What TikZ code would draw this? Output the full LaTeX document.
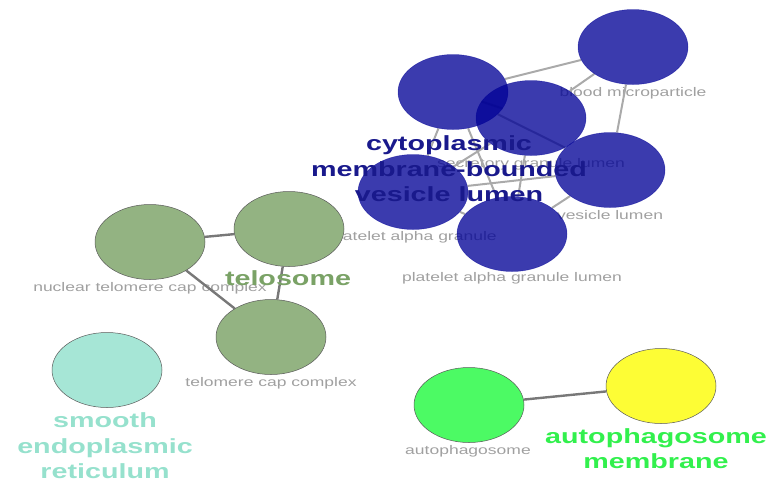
\documentclass[tikz,border=0pt]{standalone}
\usepackage{fontspec}
\setmainfont{Liberation Sans}
\usepackage{graphicx}
\usetikzlibrary{shapes.geometric,backgrounds}
\definecolor{bluefill}{RGB}{0,0,150}
\definecolor{bluelbl}{RGB}{25,25,140}
\definecolor{greennode}{RGB}{147,179,130}
\definecolor{greenlbl}{RGB}{122,162,102}
\definecolor{sernode}{RGB}{166,230,214}
\definecolor{serlbl}{RGB}{150,225,205}
\definecolor{autonode}{RGB}{76,250,100}
\definecolor{autolbl}{RGB}{50,240,77}
\definecolor{yellownode}{RGB}{253,253,53}
\definecolor{smallgray}{RGB}{160,160,160}
\definecolor{edgelight}{RGB}{170,170,170}
\definecolor{edgedark}{RGB}{120,120,120}
\newcommand{\sxx}[1]{\scalebox{1.4}[1]{#1}}
\newcommand{\bigtxt}[1]{\sxx{\fontsize{20.5}{25.5}\selectfont\bfseries\begin{tabular}{@{}c@{}}#1\end{tabular}}}
\newcommand{\smalltxt}[1]{\sxx{\fontsize{12.5}{15}\selectfont #1}}
\tikzset{
  gonode/.style={ellipse, minimum width=110pt, minimum height=75pt, inner sep=0pt, draw=black!65, line width=0.5pt},
  bluenode/.style={gonode, fill=bluefill, fill opacity=0.77, draw=bluefill, draw opacity=0.5},
  smalllbl/.style={inner sep=0pt, text=smallgray},
  biglbl/.style={inner sep=0pt},
  lightedge/.style={draw=edgelight, line width=2pt},
  darkedge/.style={draw=edgedark, line width=2.4pt}
}
\begin{document}
\begin{tikzpicture}[x=1pt,y=-1pt]
\useasboundingbox (0,0) rectangle (770,480);
% nodes
\node[bluenode] (bm) at (633,47) {};
\node[bluenode] (A) at (453,92) {};
\node[bluenode] (B) at (531,118) {};
\node[bluenode] (C) at (610,170) {};
\node[bluenode] (D) at (413,192) {};
\node[bluenode] (E) at (512,234) {};
\node[gonode, fill=greennode] (ntc) at (150,242) {};
\node[gonode, fill=greennode] (tel) at (289,229) {};
\node[gonode, fill=greennode] (tc) at (271,337) {};
\node[gonode, fill=sernode] (ser) at (107,370) {};
\node[gonode, fill=autonode] (ap) at (469,405) {};
\node[gonode, fill=yellownode] (apm) at (661,386) {};
\begin{pgfonlayer}{background}
% small labels (behind)
\node[smalllbl] (lbm) at (633,93) {\smalltxt{blood microparticle}};
\node[smalllbl] (lsg) at (531,164) {\smalltxt{secretory granule lumen}};
\node[smalllbl] (lvl) at (610,215) {\smalltxt{vesicle lumen}};
\node[smalllbl] (lpag) at (413,237) {\smalltxt{platelet alpha granule}};
\node[smalllbl] (lpagl) at (512,278) {\smalltxt{platelet alpha granule lumen}};
\node[smalllbl] (lntc) at (150,288) {\smalltxt{nuclear telomere cap complex}};
\node[smalllbl] (ltc) at (271,383) {\smalltxt{telomere cap complex}};
\node[smalllbl] (lap) at (468,451) {\smalltxt{autophagosome}};
% edges
\draw[lightedge] (A) -- (bm);
\draw[lightedge] (B) -- (bm);
\draw[lightedge] (C) -- (bm);
\draw[lightedge] (A) -- (B);
\draw[lightedge] (A) -- (C);
\draw[lightedge] (A) -- (D);
\draw[lightedge] (A) -- (E);
\draw[lightedge] (B) -- (D);
\draw[lightedge] (B) -- (E);
\draw[lightedge] (D) -- (C);
\draw[lightedge] (E) -- (C);
\draw[lightedge] (D) -- (E);
\draw[darkedge] (ntc) -- (tel);
\draw[darkedge] (ntc) -- (tc);
\draw[darkedge] (tel) -- (tc);
\draw[darkedge] (ap) -- (apm);
\end{pgfonlayer}
% big cluster labels
\node[biglbl, text=bluelbl] (lcm) at (449,171) {\bigtxt{cytoplasmic\\membrane-bounded\\vesicle lumen}};
\node[biglbl, text=greenlbl] (ltel) at (288,280) {\bigtxt{telosome}};
\node[biglbl, text=serlbl] (lser) at (105,448) {\bigtxt{smooth\\endoplasmic\\reticulum}};
\node[biglbl, text=autolbl] (lapm) at (656,451) {\bigtxt{autophagosome\\membrane}};
\end{tikzpicture}
\end{document}
